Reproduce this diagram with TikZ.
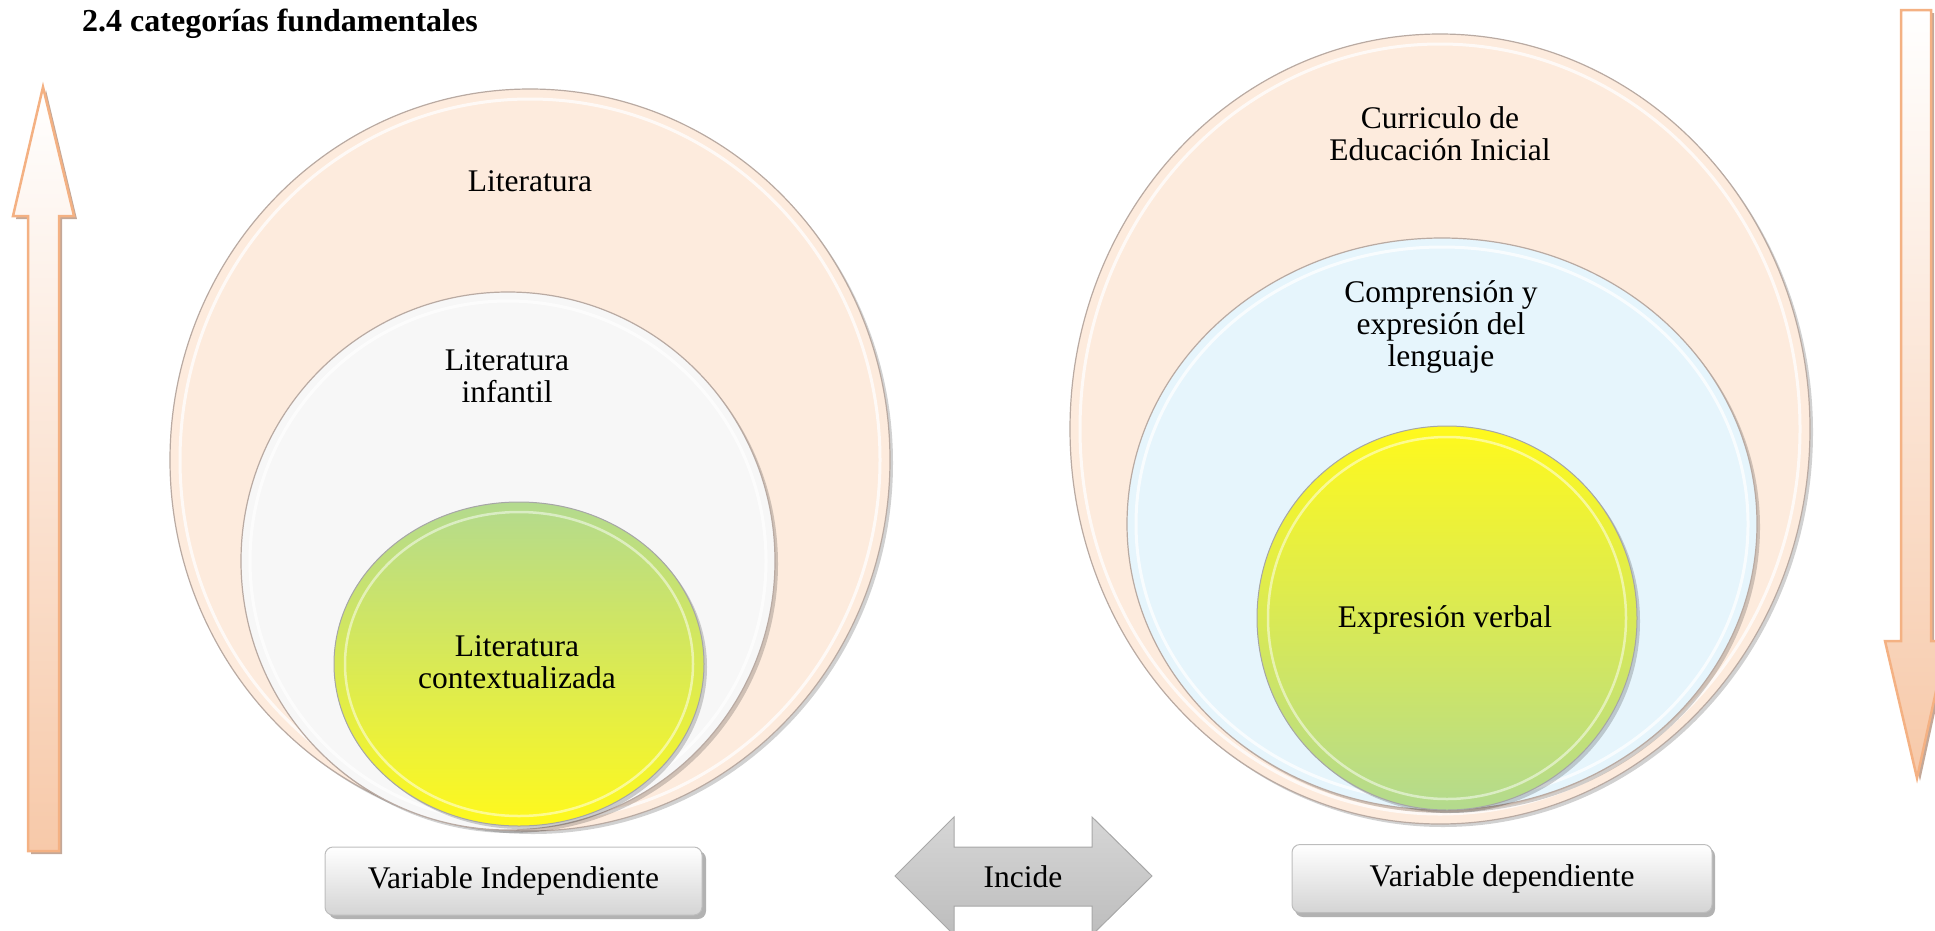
\documentclass[tikz,border=0pt]{standalone}
\usepackage{fontspec}
\setmainfont{Liberation Serif}
\definecolor{peachfill}{HTML}{FDEBDD}
\definecolor{peachline}{HTML}{F4B183}
\definecolor{arrowbot}{HTML}{F7C9A9}
\definecolor{arrowshadow}{HTML}{C4A898}
\definecolor{grayfill}{HTML}{F7F7F7}
\definecolor{bluefill}{HTML}{E6F5FC}
\definecolor{ringline}{HTML}{B9AAA2}
\definecolor{greentop}{HTML}{B3DA8E}
\definecolor{yellowbot}{HTML}{FFF91C}
\definecolor{boxline}{HTML}{BDBDBD}
\definecolor{boxbot}{HTML}{D4D4D4}
\definecolor{incidetop}{HTML}{D6D6D6}
\definecolor{incidebot}{HTML}{BDBDBD}
\definecolor{incideline}{HTML}{A8A8A8}
\tikzset{
  lbl/.style={font=\fontsize{31.5}{32}\selectfont, align=center, text=black, inner sep=0pt},
  ringedge/.style={draw=ringline, line width=1.2pt},
  bevel/.style={draw=white, line width=3pt, opacity=0.75},
  shadowfill/.style={fill=black, opacity=0.18},
  uparrow/.style={top color=white, bottom color=arrowbot, draw=peachline, line width=2.5pt, line join=miter},
  varbox/.style={rectangle, rounded corners=8pt, minimum width=#1, minimum height=68pt,
    top color=white, bottom color=boxbot, draw=boxline, line width=1pt,
    font=\fontsize{31.5}{32}\selectfont, text=black},
}
\begin{document}
\begin{tikzpicture}[x=1pt,y=-1pt]
\useasboundingbox (0,0) rectangle (1935,930);
\clip (0,0) rectangle (1935,930);

% title
\node[anchor=base west, font=\bfseries\fontsize{32}{36}\selectfont, inner sep=0pt] (title) at (82,31) {2.4 categorías fundamentales};

% ---------- left arrow (up) ----------
\fill[arrowshadow] (31,854) -- (31,219) -- (16,219) -- (46,90) -- (77,219) -- (62,219) -- (62,854) -- cycle;
\path[uparrow] (28,851) -- (28,216) -- (13,216) -- (43,87) -- (74,216) -- (59,216) -- (59,851) -- cycle;

% ---------- right arrow (down) ----------
\fill[arrowshadow] (1904,13) -- (1934,13) -- (1934,644) -- (1950,644) -- (1920,781) -- (1888,644) -- (1904,644) -- cycle;
\path[uparrow] (1901,10) -- (1931,10) -- (1931,641) -- (1947,641) -- (1917,778) -- (1885,641) -- (1901,641) -- cycle;

% ---------- left circles ----------
\fill[shadowfill] (533,463) ellipse [x radius=360, y radius=371];
\path[fill=peachfill, ringedge] (530,460) ellipse [x radius=360, y radius=371];
\path[bevel] (530,460) ellipse [x radius=350, y radius=361];

\fill[shadowfill] (511,564) ellipse [x radius=267, y radius=269];
\path[fill=grayfill, ringedge] (508,561) ellipse [x radius=267, y radius=269];
\path[bevel] (508,561) ellipse [x radius=258, y radius=260];

\fill[shadowfill] (522,667) ellipse [x radius=185, y radius=162];
\shade[top color=greentop, bottom color=yellowbot] (519,664) ellipse [x radius=185, y radius=162];
\draw[draw=black!35, line width=1pt] (519,664) ellipse [x radius=185, y radius=162];
\path[bevel, line width=2.5pt, opacity=0.5] (519,664) ellipse [x radius=174, y radius=152];

\node[lbl] (lit) at (530,181) {Literatura};
\node[lbl] (litinf) at (507,376) {Literatura\\infantil};
\node[lbl] (litctx) at (517,662) {Literatura\\contextualizada};

% ---------- right circles ----------
\fill[shadowfill] (1443,432) ellipse [x radius=370, y radius=395];
\path[fill=peachfill, ringedge] (1440,429) ellipse [x radius=370, y radius=395];
\path[bevel] (1440,429) ellipse [x radius=360, y radius=385];

\fill[shadowfill] (1445,527) ellipse [x radius=315, y radius=286];
\path[fill=bluefill, ringedge] (1442,524) ellipse [x radius=315, y radius=286];
\path[bevel] (1442,524) ellipse [x radius=306, y radius=277];

\fill[shadowfill] (1450,621) ellipse [x radius=190, y radius=192];
\shade[top color=yellowbot, bottom color=greentop] (1447,618) ellipse [x radius=190, y radius=192];
\draw[draw=black!35, line width=1pt] (1447,618) ellipse [x radius=190, y radius=192];
\path[bevel, line width=2.5pt, opacity=0.5] (1447,618) ellipse [x radius=179, y radius=181];

\node[lbl] (cur) at (1440,134) {Curriculo de\\Educación Inicial};
\node[lbl] (comp) at (1441,327) {Comprensión y\\expresión del\\lenguaje};
\node[lbl] (expv) at (1445,620) {Expresión verbal};

% ---------- bottom boxes ----------
\fill[black!30, rounded corners=8pt] (329,851) rectangle (706,919);
\node[varbox=377pt] (vind) at (513.5,881) {Variable Independiente};

\fill[black!30, rounded corners=8pt] (1295,848) rectangle (1715,917);
\node[varbox=420pt] (vdep) at (1502,878.5) {Variable dependiente};

% ---------- Incide double arrow ----------
\path[top color=incidetop, bottom color=incidebot, draw=incideline, line width=1pt]
  (895,876) -- (954,817) -- (954,847) -- (1092,847) -- (1092,817) -- (1152,876)
  -- (1092,935) -- (1092,906) -- (954,906) -- (954,935) -- cycle;
\node[lbl] (incide) at (1023,877) {Incide};
\end{tikzpicture}
\end{document}
